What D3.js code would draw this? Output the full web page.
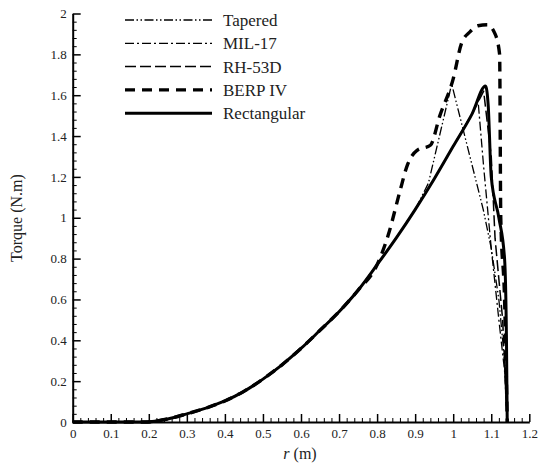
<!DOCTYPE html>
<html>
<head>
<meta charset="utf-8">
<script src="https://cdn.jsdelivr.net/npm/d3@7"></script>
<style>
  body { margin: 0; background: #fff; }
  svg { display: block; font-family: "Liberation Serif", "Times New Roman", serif; }
  .axis path, .axis line { stroke: #000; }
  .axis path { stroke-width: 2; }
  .axis text { font-size: 13px; fill: #222; font-family: "Liberation Serif", serif; }
  .legend text { font-size: 17px; fill: #222; }
</style>
</head>
<body>
<div id="viz"></div>
<script>
const width = 539;
const height = 465;

// tick values and labels
const xTicks = [0, 0.1, 0.2, 0.3, 0.4, 0.5, 0.6, 0.7, 0.8, 0.9, 1, 1.1, 1.2];
const xTickLabels = ["0", "0.1", "0.2", "0.3", "0.4", "0.5", "0.6", "0.7", "0.8", "0.9", "1", "1.1", "1.2"];
const yTicks = [0, 0.2, 0.4, 0.6, 0.8, 1, 1.2, 1.4, 1.6, 1.8, 2];
const yTickLabels = ["0", "0.2", "0.4", "0.6", "0.8", "1", "1.2", "1.4", "1.6", "1.8", "2"];

// series
const seriesNames = ["Tapered", "MIL-17", "RH-53D", "BERP IV", "Rectangular"];

const rectR = [0, 0.1, 0.19, 0.25, 0.3, 0.35, 0.4, 0.45, 0.5, 0.55, 0.6, 0.65, 0.7, 0.75, 0.8, 0.85, 0.9, 0.95, 1.0, 1.05, 1.085, 1.092, 1.1, 1.12, 1.135, 1.14, 1.142];
const rectT = [0, 0, 0, 0.015, 0.04, 0.068, 0.103, 0.15, 0.21, 0.28, 0.36, 0.449, 0.54, 0.645, 0.77, 0.9, 1.04, 1.19, 1.35, 1.51, 1.645, 1.55, 1.2, 1.0, 0.8, 0.4, 0];

const taperedR = [0, 0.1, 0.19, 0.25, 0.3, 0.35, 0.4, 0.45, 0.5, 0.55, 0.6, 0.65, 0.7, 0.75, 0.8, 0.85, 0.9, 0.935, 0.996, 1.079, 1.1, 1.12, 1.135, 1.142];
const taperedT = [0, 0, 0, 0.015, 0.04, 0.068, 0.103, 0.15, 0.21, 0.28, 0.36, 0.449, 0.54, 0.645, 0.77, 0.9, 1.04, 1.17, 1.655, 1.04, 0.85, 0.6, 0.3, 0];

const milR = [0, 0.1, 0.19, 0.25, 0.3, 0.35, 0.4, 0.45, 0.5, 0.55, 0.6, 0.65, 0.7, 0.75, 0.8, 0.85, 0.9, 0.95, 1.0, 1.05, 1.065, 1.08, 1.1, 1.12, 1.135, 1.142];
const milT = [0, 0, 0, 0.015, 0.04, 0.068, 0.103, 0.15, 0.21, 0.28, 0.36, 0.449, 0.54, 0.645, 0.77, 0.9, 1.04, 1.19, 1.35, 1.51, 1.58, 1.25, 0.85, 0.5, 0.25, 0];

const rhR = [0, 0.1, 0.19, 0.25, 0.3, 0.35, 0.4, 0.45, 0.5, 0.55, 0.6, 0.65, 0.7, 0.75, 0.8, 0.85, 0.9, 0.95, 1.0, 1.05, 1.08, 1.1, 1.11, 1.13, 1.142];
const rhT = [0, 0, 0, 0.015, 0.04, 0.068, 0.103, 0.15, 0.21, 0.28, 0.36, 0.449, 0.54, 0.645, 0.77, 0.9, 1.04, 1.19, 1.35, 1.51, 1.62, 1.3, 0.9, 0.5, 0];

const berpR = [0, 0.1, 0.19, 0.25, 0.3, 0.35, 0.4, 0.45, 0.5, 0.55, 0.6, 0.65, 0.7, 0.75, 0.8, 0.83, 0.86, 0.88, 0.905, 0.94, 0.965, 1.0, 1.022, 1.044, 1.065, 1.09, 1.11, 1.122, 1.125, 1.135, 1.142];
const berpT = [0, 0, 0, 0.015, 0.04, 0.068, 0.103, 0.15, 0.21, 0.28, 0.36, 0.449, 0.54, 0.645, 0.77, 0.92, 1.13, 1.26, 1.33, 1.355, 1.5, 1.68, 1.855, 1.91, 1.94, 1.945, 1.9, 1.8, 1.0, 0.6, 0];

const seriesR = [taperedR, milR, rhR, berpR, rectR];
const seriesT = [taperedT, milT, rhT, berpT, rectT];

// line styles per series
const styles = [
    { w: 1.3, dash: "9,2.5,1.5,2.5,1.5,2.5", curve: d3.curveLinear },
    { w: 1.3, dash: "9,3,2,3", curve: d3.curveLinear },
    { w: 1.5, dash: "11,4", curve: d3.curveLinear },
    { w: 3.4, dash: "10,7", curve: d3.curveMonotoneX },
    { w: 3, dash: null, curve: d3.curveMonotoneX }
];

const svg = d3.select("#viz")
    .append("svg")
    .attr("width", width)
    .attr("height", height);

const x = d3.scaleLinear().domain([0, 1.2]).range([72.7, 529.3]);
const y = d3.scaleLinear().domain([0, 2]).range([422, 13.5]);

// minor ticks
const xMinor = d3.range(0, 121, 2).map(v => v / 100).filter(v => !xTicks.includes(v));
const yMinor = d3.range(0, 201, 4).map(v => v / 100).filter(v => !yTicks.includes(v));

svg.append("g")
    .attr("class", "axis")
    .attr("transform", "translate(0," + y(0) + ")")
    .call(d3.axisBottom(x).tickValues(xMinor).tickSize(-4).tickFormat(""))
    .call(g => g.select(".domain").remove());

svg.append("g")
    .attr("class", "axis")
    .attr("transform", "translate(" + x(0) + ",0)")
    .call(d3.axisLeft(y).tickValues(yMinor).tickSize(-4).tickFormat(""))
    .call(g => g.select(".domain").remove());

svg.append("g")
    .attr("class", "axis")
    .attr("transform", "translate(0," + y(0) + ")")
    .call(d3.axisBottom(x).tickValues(xTicks).tickSize(-8).tickSizeOuter(0).tickPadding(7)
        .tickFormat((d, i) => xTickLabels[i]))
    .selectAll(".tick line").attr("stroke-width", 1.5);

svg.append("g")
    .attr("class", "axis")
    .attr("transform", "translate(" + x(0) + ",0)")
    .call(d3.axisLeft(y).tickValues(yTicks).tickSize(-8).tickSizeOuter(0).tickPadding(6)
        .tickFormat((d, i) => yTickLabels[i]))
    .selectAll(".tick line").attr("stroke-width", 1.5);

// axis titles
const xTitle = svg.append("text")
    .attr("x", 300)
    .attr("y", 459)
    .attr("text-anchor", "middle")
    .style("font-size", "16px")
    .style("fill", "#222");
xTitle.append("tspan").style("font-style", "italic").text("r");
xTitle.append("tspan").text(" (m)");

svg.append("text")
    .attr("transform", "translate(22," + 218 + ") rotate(-90)")
    .attr("text-anchor", "middle")
    .style("font-size", "16px")
    .style("fill", "#222")
    .text("Torque (N.m)");

// curves
seriesNames.forEach((name, i) => {
    const pts = seriesR[i].map((r, j) => [r, seriesT[i][j]]);
    const line = d3.line()
        .x(d => x(d[0]))
        .y(d => y(d[1]))
        .curve(styles[i].curve);
    svg.append("path")
        .datum(pts)
        .attr("fill", "none")
        .attr("stroke", "#000")
        .attr("stroke-width", styles[i].w)
        .attr("stroke-dasharray", styles[i].dash)
        .attr("stroke-linejoin", "round")
        .attr("d", line);
});

// legend
const legendItems = svg.selectAll(".legend")
    .data(seriesNames)
    .enter()
    .append("g")
    .attr("class", "legend")
    .attr("transform", (d, i) => "translate(125," + (20 + i * 23.3) + ")");

legendItems.append("line")
    .attr("x1", 0)
    .attr("x2", 87)
    .attr("stroke", "#000")
    .attr("stroke-width", (d, i) => styles[i].w)
    .attr("stroke-dasharray", (d, i) => styles[i].dash);

legendItems.append("text")
    .attr("x", 98)
    .attr("y", 6)
    .text(d => d);
</script>
</body>
</html>
